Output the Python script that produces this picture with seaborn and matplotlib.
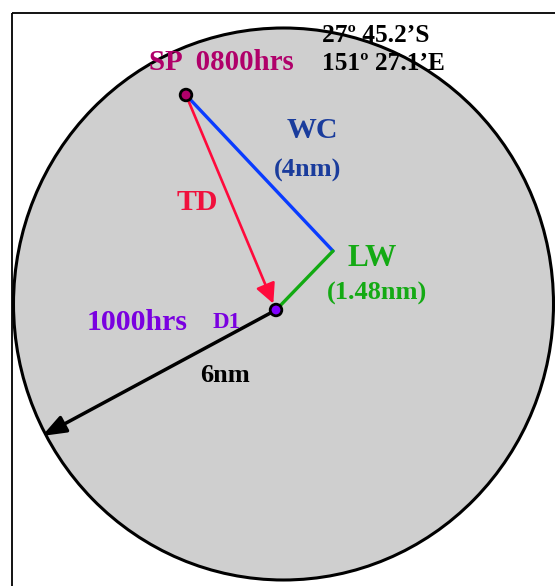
import numpy as np
import pandas as pd
import matplotlib.pyplot as plt
import seaborn as sns
from matplotlib.patches import Ellipse, Rectangle

# Diagram coordinates (chart units, y grows downward)
circle_centre = (283.5, 304)
circle_size = (540, 552)

sp_pos = (186, 95)          # start position 0800hrs
wc_end = (333, 251)         # end of water current vector
d1_pos = (276, 310)         # DR position 1000hrs
range_end = (42, 436)       # end of 6nm radius arrow

sp_label = "SP  0800hrs"
lat_label = "27\u00ba 45.2\u2019S"
lon_label = "151\u00ba 27.1\u2019E"

sns.set_theme(style="white")
plt.rcParams['font.family'] = ['Liberation Serif', 'DejaVu Serif']

fig = plt.figure(figsize=(5.55, 5.86), dpi=100)
ax = fig.add_axes([0, 0, 1, 1])
ax.set_xlim(0, 555)
ax.set_ylim(586, 0)
ax.axis("off")

# outer frame (runs off the page right and bottom)
ax.add_patch(Rectangle((12, 13), 600, 600, fill=False, ec="black", lw=1.3, zorder=1))

# the 6nm circle
ax.add_patch(Ellipse(circle_centre, circle_size[0], circle_size[1],
                     fc="#cfcfcf", ec="black", lw=2.2, zorder=2))

# water current (blue) and leeway (green)
seg = pd.DataFrame({"x": [sp_pos[0], wc_end[0]], "y": [sp_pos[1], wc_end[1]]})
sns.lineplot(data=seg, x="x", y="y", sort=False, color="#0a3cff", lw=2.4, ax=ax, zorder=3)
seg = pd.DataFrame({"x": [wc_end[0], d1_pos[0]], "y": [wc_end[1], d1_pos[1]]})
sns.lineplot(data=seg, x="x", y="y", sort=False, color="#12aa12", lw=2.4, ax=ax, zorder=3)

# track (red arrow)
ax.annotate("", xy=d1_pos, xytext=sp_pos,
            arrowprops=dict(arrowstyle="-|>,head_length=1.0,head_width=0.5",
                            color="#ff0a3c", lw=1.9, shrinkA=0, shrinkB=5),
            zorder=4)

# 6nm radius arrow
ax.annotate("", xy=range_end, xytext=d1_pos,
            arrowprops=dict(arrowstyle="-|>,head_length=1.2,head_width=0.45",
                            color="black", lw=2.5, shrinkA=0, shrinkB=0),
            zorder=4)

# positions
pts = pd.DataFrame({"x": [sp_pos[0], d1_pos[0]], "y": [sp_pos[1], d1_pos[1]],
                    "name": ["SP", "D1"]})
sns.scatterplot(data=pts, x="x", y="y", hue="name",
                palette={"SP": "#b0006a", "D1": "#8000ff"},
                s=70, edgecolor="black", linewidth=2, legend=False, ax=ax, zorder=5)
ax.set_xlabel("")
ax.set_ylabel("")

bold = dict(fontweight="bold", ha="center", va="center")
ax.text(221, 62, sp_label, color="#b0006a", fontsize=20.8, **bold)
ax.text(322, 36, lat_label, color="black", fontsize=18.3, fontweight="bold", ha="left", va="center")
ax.text(322, 64, lon_label, color="black", fontsize=18.3, fontweight="bold", ha="left", va="center")
ax.text(312, 130, "WC", color="#1a3c9c", fontsize=21.5, **bold)
ax.text(308, 170, "(4nm)", color="#1a3c9c", fontsize=19, **bold)
ax.text(197, 203, "TD", color="#f0103c", fontsize=21.5, **bold)
ax.text(372, 258, "LW", color="#14aa14", fontsize=22.5, **bold)
ax.text(377, 293, "(1.48nm)", color="#14aa14", fontsize=19, **bold)
ax.text(137, 322, "1000hrs", color="#7a00e0", fontsize=21.5, **bold)
ax.text(227, 323, "D1", color="#7a00e0", fontsize=16.5, **bold)
ax.text(225, 376, "6nm", color="black", fontsize=19, **bold)

fig.savefig("out.png", dpi=100)
